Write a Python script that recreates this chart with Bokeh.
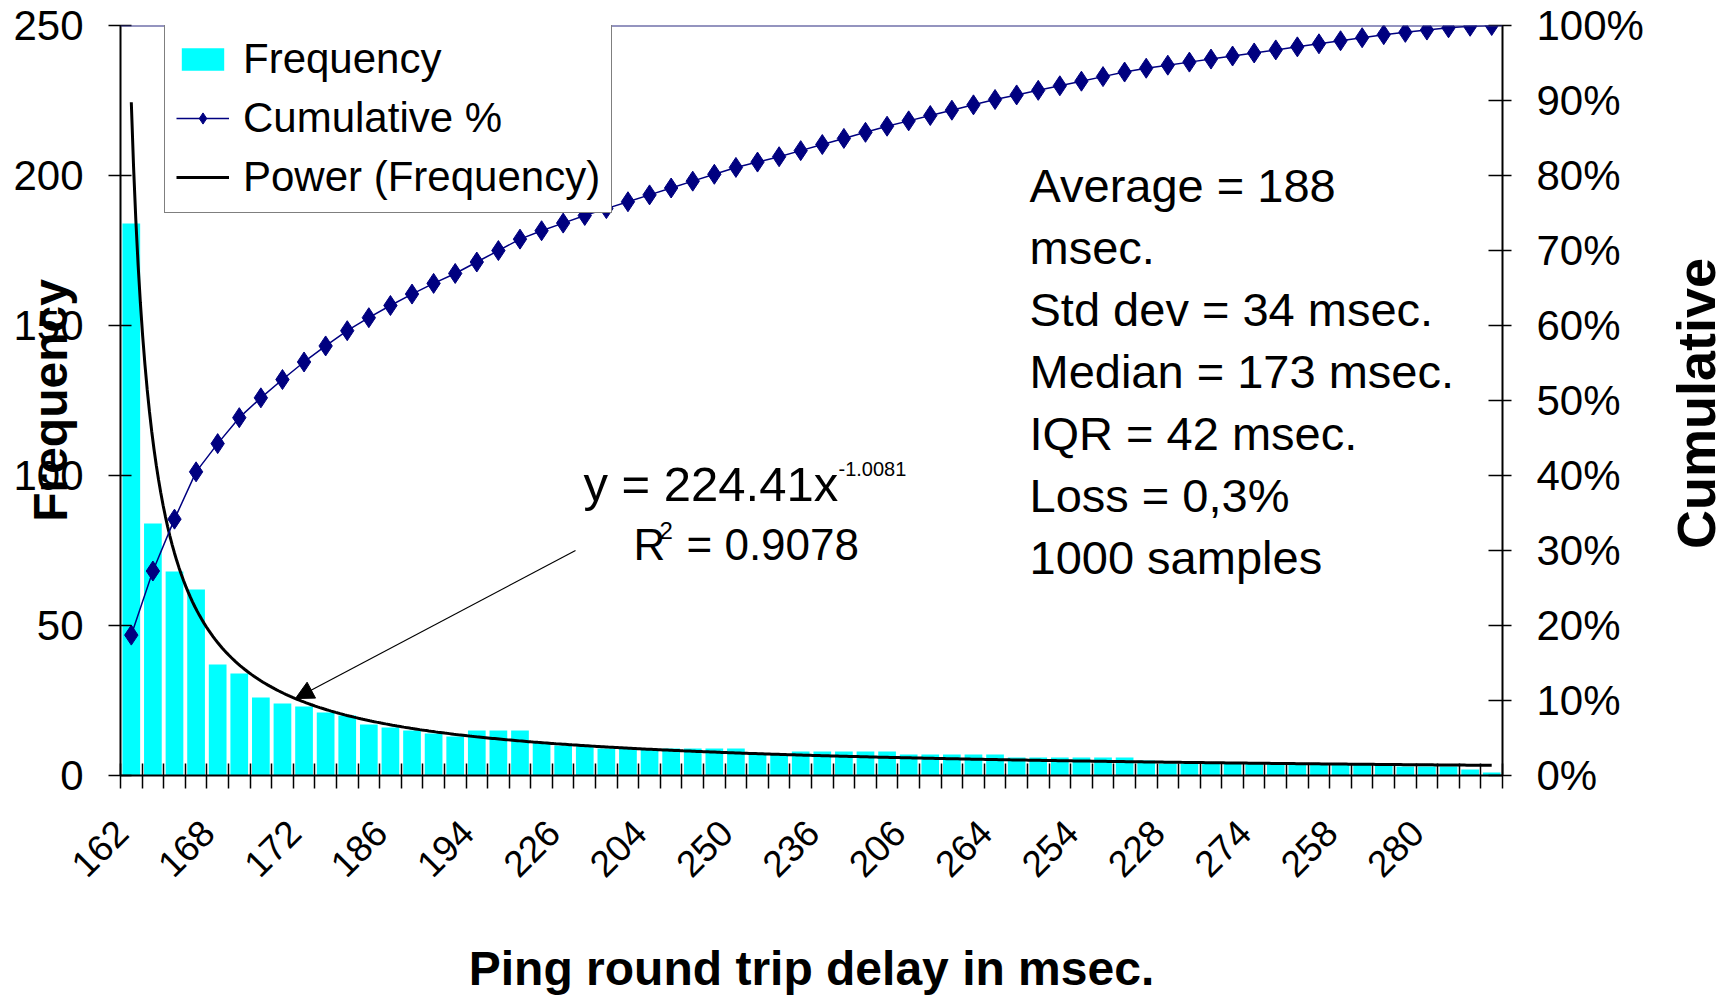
import numpy as np
from bokeh.plotting import figure
from bokeh.layouts import row
from bokeh.models import (Range1d, LinearAxis, FixedTicker, NumeralTickFormatter,
                          Label, Legend, LegendItem, Arrow, NormalHead, Span)
from bokeh.embed import file_html
from bokeh.resources import INLINE

# Ping round-trip delay bins, ordered by how often each delay occurred
frequency = [184, 84, 68, 62, 37, 34, 26, 24, 23, 21,
             20, 17, 16, 15, 14, 13, 15, 15, 15, 11,
             10, 10, 9, 9, 9, 9, 9, 9, 9, 7,
             7, 8, 8, 8, 8, 8, 7, 7, 7, 7,
             7, 6, 6, 6, 6, 6, 6, 5, 4, 4,
             4, 4, 4, 4, 4, 4, 4, 4, 4, 3,
             3, 3, 2, 1]

# delay (msec) shown under every fourth bin
tick_labels = ["162", "168", "172", "186", "194", "226", "204", "250",
               "236", "206", "264", "254", "228", "274", "258", "280"]
label_step = 4
label_shift = -0.45   # slanted labels end a little left of their bin

# power trendline fitted to the frequencies: y = a * x^b
trend_a = 224.41
trend_b = -1.0081
trend_r2 = 0.9078

stats_lines = ["Average = 188", "msec.", "Std dev = 34 msec.",
               "Median = 173 msec.", "IQR = 42 msec.", "Loss = 0,3%",
               "1000 samples"]

FONT = "Liberation Sans"
NAVY = "#000080"
SIDE_W = 85

n = len(frequency)
xs = np.arange(n)
cumulative = np.cumsum(frequency) / float(sum(frequency))


def trend(pos):
    return trend_a * (np.asarray(pos) + 1.0) ** trend_b


p = figure(width=1735 - SIDE_W, height=999, output_backend="svg", toolbar_location=None,
           x_range=Range1d(-0.5, n - 0.5), y_range=Range1d(0, 250),
           min_border_left=120, min_border_right=148,
           min_border_top=25, min_border_bottom=224,
           background_fill_color="white", border_fill_color="white")
p.title.visible = False
p.outline_line_color = None
p.grid.visible = False
p.extra_y_ranges = {"pct": Range1d(0, 1)}

# category axis: labels every fourth bin, tick marks between every bin
xa = p.xaxis[0]
xa.ticker = FixedTicker(ticks=[i * label_step + label_shift for i in range(len(tick_labels))],
                        minor_ticks=[i - 0.5 for i in range(n + 1)])
xa.major_label_overrides = {i * label_step + label_shift: t for i, t in enumerate(tick_labels)}
xa.major_label_orientation = np.pi / 4
xa.major_tick_in = 0
xa.major_tick_out = 0
xa.minor_tick_in = 12
xa.minor_tick_out = 13
xa.minor_tick_line_color = "black"
xa.minor_tick_line_width = 1.5
xa.axis_line_color = "black"
xa.axis_line_width = 2
xa.major_label_standoff = 38
xa.major_label_text_font = FONT
xa.major_label_text_font_size = "37px"
xa.major_label_text_color = "black"
xa.axis_label = "Ping round trip delay in msec."
xa.axis_label_standoff = 50
xa.axis_label_text_font = FONT
xa.axis_label_text_font_style = "bold"
xa.axis_label_text_font_size = "48px"
xa.axis_label_text_color = "black"

ya = p.yaxis[0]
ya.ticker = FixedTicker(ticks=[0, 50, 100, 150, 200, 250])
ya.major_tick_in = 11
ya.major_tick_out = 12
ya.minor_tick_in = 0
ya.minor_tick_out = 0
ya.major_tick_line_color = "black"
ya.major_tick_line_width = 1.5
ya.axis_line_color = "black"
ya.axis_line_width = 2
ya.major_label_standoff = 25
ya.major_label_text_font = FONT
ya.major_label_text_font_size = "42px"
ya.major_label_text_color = "black"
ya.axis_label = "Frequency"
ya.axis_label_standoff = -67
ya.axis_label_text_font = FONT
ya.axis_label_text_font_style = "bold"
ya.axis_label_text_font_size = "48px"
ya.axis_label_text_color = "black"

ra = LinearAxis(y_range_name="pct",
                ticker=FixedTicker(ticks=[i / 10 for i in range(11)]),
                formatter=NumeralTickFormatter(format="0%"))
ra.major_tick_in = 14
ra.major_tick_out = 9
ra.minor_tick_in = 0
ra.minor_tick_out = 0
ra.major_tick_line_color = "black"
ra.major_tick_line_width = 1.5
ra.axis_line_color = "black"
ra.axis_line_width = 2
ra.major_label_standoff = 25
ra.major_label_text_font = FONT
ra.major_label_text_font_size = "42px"
ra.major_label_text_color = "black"
p.add_layout(ra, "right")

# top edge of the plot area
p.add_layout(Span(location=250, dimension="width", line_color="#2B2B80", line_width=2))

bars = p.vbar(x=xs, top=frequency, width=0.82, fill_color="#00FFFF", line_color=None)

tx = np.linspace(0, n - 1, 600)
trend_line = p.line(tx, trend(tx), line_color="black", line_width=3)

cum_line = p.line(xs, cumulative, y_range_name="pct", line_color=NAVY, line_width=1.5)
cum_pts = p.scatter(xs, cumulative, y_range_name="pct", marker="diamond", size=20,
                    fill_color=NAVY, line_color=NAVY)

legend = Legend(items=[LegendItem(label="Frequency", renderers=[bars]),
                       LegendItem(label="Cumulative %", renderers=[cum_line, cum_pts]),
                       LegendItem(label="Power (Frequency)", renderers=[trend_line])],
                location=(44, 562), orientation="vertical",
                glyph_width=53, glyph_height=28, label_standoff=14,
                label_height=46, spacing=11, padding=11, margin=0,
                label_text_font=FONT, label_text_font_size="42px",
                label_text_color="black",
                border_line_color="black", border_line_width=1.5,
                background_fill_color="white", background_fill_alpha=1.0)
p.add_layout(legend)

# trendline equation with an arrow to the curve
eq_style = dict(x_units="screen", y_units="screen", text_font=FONT,
                text_color="black", text_baseline="alphabetic", text_align="left")
p.add_layout(Label(x=463, y=292, text="y = %.2fx" % trend_a, text_font_size="49px", **eq_style))
p.add_layout(Label(x=718, y=307, text="%.4f" % trend_b, text_font_size="20px", **eq_style))
p.add_layout(Label(x=513, y=231, text="R", text_font_size="44px", **eq_style))
p.add_layout(Label(x=539, y=245, text="2", text_font_size="24px", **eq_style))
p.add_layout(Label(x=566, y=231, text=" = %.4f" % trend_r2, text_font_size="44px", **eq_style))

arrow_at = 7.6
p.add_layout(Arrow(end=NormalHead(size=18, fill_color="black", line_color="black"),
                   x_start=455, y_start=225, start_units="screen",
                   x_end=arrow_at, y_end=float(trend(arrow_at)), end_units="data",
                   line_color="black", line_width=1.2))

# summary statistics block
for i, line in enumerate(stats_lines):
    p.add_layout(Label(x=909, y=590 - i * 62, text=line, text_font_size="47px", **eq_style))

# title strip for the secondary (cumulative) axis
side = figure(width=SIDE_W, height=999, output_backend="svg", toolbar_location=None,
              x_range=Range1d(0, 1), y_range=Range1d(0, 1),
              x_axis_type=None, y_axis_type=None, min_border=0,
              background_fill_color="white", border_fill_color="white")
side.title.visible = False
side.outline_line_color = None
side.grid.visible = False
side.add_layout(Label(x=0.537, y=0.496, text="Cumulative", angle=np.pi / 2,
                      text_font=FONT, text_font_style="bold", text_font_size="54px",
                      text_color="black", text_align="center", text_baseline="middle"))

open("out.html", "w").write(file_html(row(p, side), INLINE))
